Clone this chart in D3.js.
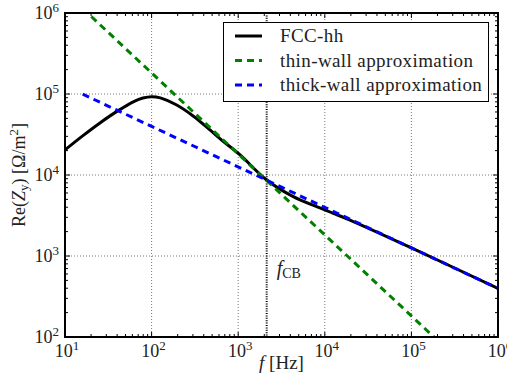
<!DOCTYPE html>
<html><head><meta charset="utf-8">
<script src="https://cdn.jsdelivr.net/npm/d3@7"></script>
<style>
body{margin:0;background:#fff;}
text{font-family:"Liberation Serif","DejaVu Serif",serif;}
</style></head>
<body><svg id="c" width="507" height="387"></svg>
<script>
// Data (frequency in Hz, Re(Z_y) in Ohm/m^2)
const fccF = [10, 15.85, 25.1, 39.8, 63.1, 79.4, 100, 125.9, 195, 302, 472, 644, 1050, 2133, 4325, 8054, 12530, 19540, 100000, 1000000];
const fccZ = [20400, 30200, 43650, 61000, 81300, 89100, 92700, 89700, 73100, 53500, 36000, 27000, 17700, 8670, 5400, 4060, 3365, 2780, 1260, 398];
const thinF = [10, 1000000];
const thinZ = [1820000, 18.2];
const thickF = [16, 1000000];
const thickZ = [99500, 398];
const fCB = 2133;
const xTickExp = [1, 2, 3, 4, 5, 6];
const yTickExp = [2, 3, 4, 5, 6];
const legendLabels = ["FCC-hh", "thin-wall approximation", "thick-wall approximation"];

const svg = d3.select("#c");
const L = 65, R = 498, T = 13, B = 337;
const x = d3.scaleLog().domain([10, 1e6]).range([L, R]);
const y = d3.scaleLog().domain([100, 1e6]).range([B, T]);

svg.append("defs").append("clipPath").attr("id", "clip")
  .append("rect").attr("x", L).attr("y", T).attr("width", R - L).attr("height", B - T);

// grid
const grid = svg.append("g");
xTickExp.forEach(e => {
  const v = Math.pow(10, e);
  grid.append("line").attr("x1", x(v)).attr("x2", x(v)).attr("y1", T).attr("y2", B)
    .attr("stroke", "#555").attr("stroke-width", 0.8).attr("stroke-dasharray", "1,2");
});
yTickExp.forEach(e => {
  const v = Math.pow(10, e);
  grid.append("line").attr("x1", L).attr("x2", R).attr("y1", y(v)).attr("y2", y(v))
    .attr("stroke", "#555").attr("stroke-width", 0.8).attr("stroke-dasharray", "1,2");
});

// f_CB line
svg.append("line").attr("x1", x(fCB)).attr("x2", x(fCB)).attr("y1", T).attr("y2", B)
  .attr("stroke", "#000").attr("stroke-width", 2).attr("stroke-dasharray", "1,1.4");

const plot = svg.append("g").attr("clip-path", "url(#clip)");
const lineGen = d3.line().x(d => x(d[0])).y(d => y(d[1]));
const curveGen = d3.line().x(d => x(d[0])).y(d => y(d[1])).curve(d3.curveCatmullRom.alpha(0.5));

plot.append("path").datum(fccF.map((f, i) => [f, fccZ[i]])).attr("d", curveGen)
  .attr("fill", "none").attr("stroke", "#000").attr("stroke-width", 3);
plot.append("path").datum(thinF.map((f, i) => [f, thinZ[i]])).attr("d", lineGen)
  .attr("fill", "none").attr("stroke", "#008000").attr("stroke-width", 3).attr("stroke-dasharray", "7,5");
plot.append("path").datum(thickF.map((f, i) => [f, thickZ[i]])).attr("d", lineGen)
  .attr("fill", "none").attr("stroke", "#0000ff").attr("stroke-width", 3).attr("stroke-dasharray", "7,5");

// ticks (inward, all sides)
const tk = svg.append("g").attr("stroke", "#000");
for (let e = 1; e <= 6; e++) {
  for (let k = 1; k <= 9; k++) {
    const v = k * Math.pow(10, e);
    if (v > 1e6) break;
    const len = k === 1 ? 5 : 3;
    const px = x(v);
    tk.append("line").attr("x1", px).attr("x2", px).attr("y1", B).attr("y2", B - len).attr("stroke-width", 1);
    tk.append("line").attr("x1", px).attr("x2", px).attr("y1", T).attr("y2", T + len).attr("stroke-width", 1);
  }
}
for (let e = 2; e <= 6; e++) {
  for (let k = 1; k <= 9; k++) {
    const v = k * Math.pow(10, e);
    if (v > 1e6) break;
    const len = k === 1 ? 5 : 3;
    const py = y(v);
    tk.append("line").attr("x1", L).attr("x2", L + len).attr("y1", py).attr("y2", py).attr("stroke-width", 1);
    tk.append("line").attr("x1", R).attr("x2", R - len).attr("y1", py).attr("y2", py).attr("stroke-width", 1);
  }
}

// frame
svg.append("rect").attr("x", L).attr("y", T).attr("width", R - L).attr("height", B - T)
  .attr("fill", "none").attr("stroke", "#000").attr("stroke-width", 2);

// tick labels
const fs = 18;
xTickExp.forEach(e => {
  const t = svg.append("text").attr("x", x(Math.pow(10, e)) + 2).attr("y", 357)
    .attr("text-anchor", "middle").attr("font-size", fs).attr("fill", "#222");
  t.append("tspan").text("10");
  t.append("tspan").attr("dy", -7).attr("font-size", 13).text(e);
});
yTickExp.forEach(e => {
  const t = svg.append("text").attr("x", 59).attr("y", y(Math.pow(10, e)) + 6)
    .attr("text-anchor", "end").attr("font-size", fs).attr("fill", "#222");
  t.append("tspan").text("10");
  t.append("tspan").attr("dy", -7).attr("font-size", 13).text(e);
});

// f_CB label
const fl = svg.append("text").attr("x", x(fCB) + 10).attr("y", 275).attr("font-size", 20).attr("fill", "#222");
fl.append("tspan").attr("font-style", "italic").text("f");
fl.append("tspan").attr("dy", 3).attr("font-size", 14).text("CB");

// axis labels
const xl = svg.append("text").attr("x", (L + R) / 2).attr("y", 369).attr("text-anchor", "middle")
  .attr("font-size", 19).attr("fill", "#222");
xl.append("tspan").attr("font-style", "italic").text("f");
xl.append("tspan").text("  [Hz]");

const yl = svg.append("text").attr("transform", `translate(25,${(T + B) / 2}) rotate(-90)`)
  .attr("text-anchor", "middle").attr("font-size", 18).attr("fill", "#222");
yl.append("tspan").text("Re(");
yl.append("tspan").attr("font-style", "italic").text("Z");
yl.append("tspan").attr("font-size", 13).attr("dy", 3).text("y");
yl.append("tspan").attr("dy", -3).text(")  [Ω/m");
yl.append("tspan").attr("font-size", 13).attr("dy", -7).text("2");
yl.append("tspan").attr("dy", 7).text("]");

// legend
const lg = svg.append("g");
lg.append("rect").attr("x", 223.5).attr("y", 22.5).attr("width", 265).attr("height", 79)
  .attr("fill", "#fff").attr("stroke", "#000").attr("stroke-width", 1);
const lcol = ["#000", "#008000", "#0000ff"];
const ldash = [null, "7,5", "7,5"];
legendLabels.forEach((s, i) => {
  const yy = 36 + i * 24.5;
  const ln = lg.append("line").attr("x1", 235).attr("x2", 262).attr("y1", yy).attr("y2", yy)
    .attr("stroke", lcol[i]).attr("stroke-width", 3);
  if (ldash[i]) ln.attr("stroke-dasharray", ldash[i]);
  lg.append("text").attr("x", 280).attr("y", yy + 6).attr("font-size", 19)
    .attr("letter-spacing", 0.4).attr("fill", "#222").text(s);
});
</script></body></html>
